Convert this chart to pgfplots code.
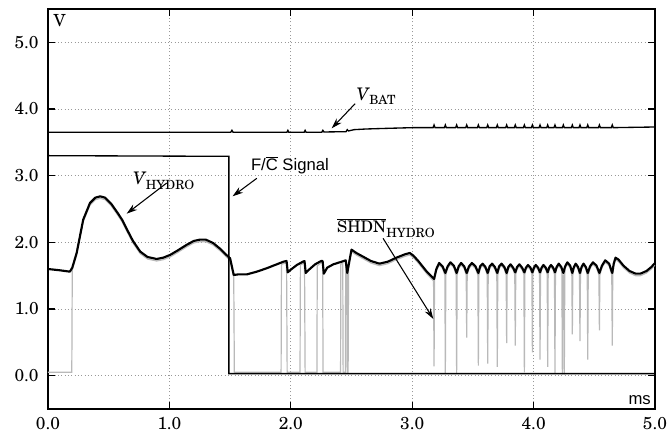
\documentclass[border=0pt]{standalone}
\usepackage{pgfplots}
\pgfplotsset{compat=1.18}
\usepackage{pgfplotstable}
\usepackage{fontspec}
\setmainfont{TeX Gyre Schola}
\newfontfamily\sans{Liberation Sans}
\usetikzlibrary{arrows.meta,calc}

% V_HYDRO (black)
\pgfplotstableread{
t v
0.000 1.60
0.100 1.58
0.180 1.56
0.200 1.62
0.236 1.84
0.290 2.34
0.346 2.59
0.390 2.67
0.430 2.69
0.470 2.67
0.520 2.58
0.570 2.45
0.610 2.34
0.660 2.16
0.700 2.02
0.760 1.86
0.820 1.78
0.895 1.75
0.950 1.77
1.005 1.81
1.070 1.88
1.140 1.96
1.200 2.02
1.250 2.04
1.300 2.04
1.360 1.99
1.420 1.90
1.470 1.81
1.500 1.76
1.530 1.51
1.570 1.52
1.640 1.52
1.720 1.56
1.800 1.61
1.870 1.66
1.940 1.71
1.965 1.72
1.975 1.55
2.000 1.59
2.050 1.66
2.100 1.71
2.113 1.72
2.123 1.54
2.150 1.59
2.200 1.67
2.250 1.72
2.262 1.72
2.272 1.53
2.300 1.62
2.350 1.67
2.420 1.71
2.452 1.73
2.465 1.54
2.500 1.89
2.540 1.84
2.590 1.79
2.660 1.72
2.730 1.68
2.800 1.71
2.870 1.77
2.940 1.82
2.980 1.84
3.010 1.80
3.050 1.72
3.120 1.56
3.180 1.45
3.199 1.60
3.222 1.69
3.250 1.64
3.273 1.54
3.292 1.64
3.315 1.70
3.343 1.65
3.366 1.54
3.383 1.64
3.403 1.69
3.428 1.64
3.449 1.54
3.468 1.64
3.492 1.69
3.521 1.64
3.545 1.54
3.560 1.64
3.580 1.68
3.603 1.63
3.622 1.54
3.638 1.64
3.658 1.68
3.681 1.63
3.701 1.54
3.716 1.64
3.736 1.68
3.759 1.63
3.778 1.54
3.792 1.63
3.810 1.67
3.831 1.62
3.849 1.55
3.864 1.63
3.883 1.67
3.905 1.62
3.924 1.55
3.937 1.62
3.954 1.66
3.974 1.62
3.990 1.55
4.003 1.62
4.018 1.66
4.037 1.62
4.053 1.55
4.066 1.62
4.081 1.66
4.100 1.62
4.116 1.55
4.128 1.62
4.143 1.66
4.161 1.62
4.176 1.55
4.190 1.63
4.207 1.68
4.228 1.63
4.245 1.54
4.260 1.64
4.278 1.70
4.301 1.65
4.319 1.54
4.332 1.63
4.347 1.68
4.366 1.63
4.382 1.54
4.395 1.63
4.411 1.68
4.430 1.63
4.446 1.54
4.465 1.64
4.489 1.70
4.518 1.65
4.542 1.54
4.563 1.65
4.590 1.73
4.622 1.68
4.648 1.54
4.660 1.68
4.675 1.77
4.700 1.74
4.740 1.65
4.790 1.57
4.840 1.53
4.880 1.53
4.930 1.57
4.970 1.63
5.000 1.69
}\hydro

% SHDN_HYDRO (grey)
\pgfplotstableread{
t v
0.000 0.05
0.196 0.05
0.200 1.59
0.236 1.81
0.290 2.31
0.346 2.56
0.390 2.64
0.430 2.66
0.470 2.64
0.520 2.55
0.570 2.42
0.610 2.31
0.660 2.13
0.700 1.99
0.760 1.83
0.820 1.75
0.895 1.72
0.950 1.74
1.005 1.78
1.070 1.85
1.140 1.93
1.200 1.99
1.250 2.01
1.300 2.01
1.360 1.96
1.420 1.87
1.470 1.78
1.500 1.73
1.530 1.48
1.535 0.05
1.920 0.05
1.923 1.67
1.940 1.68
1.965 1.69
1.970 0.05
2.076 0.05
2.079 1.66
2.100 1.68
2.113 1.69
2.118 0.05
2.215 0.05
2.218 1.65
2.250 1.69
2.262 1.69
2.266 0.05
2.410 0.05
2.412 1.67
2.428 1.69
2.431 0.05
2.450 0.05
2.452 1.70
2.462 1.58
2.466 0.05
2.472 0.05
2.476 1.70
2.500 1.86
2.540 1.81
2.590 1.76
2.660 1.69
2.730 1.65
2.800 1.68
2.870 1.74
2.940 1.79
2.980 1.81
3.010 1.77
3.050 1.69
3.120 1.53
3.176 1.42
3.180 0.14
3.184 1.44
3.199 1.57
3.222 1.66
3.250 1.61
3.269 1.51
3.273 0.04
3.277 1.51
3.292 1.61
3.315 1.67
3.343 1.62
3.362 1.51
3.366 0.04
3.370 1.51
3.383 1.61
3.403 1.66
3.428 1.61
3.445 1.51
3.449 0.57
3.453 1.51
3.468 1.61
3.492 1.66
3.521 1.61
3.541 1.51
3.545 0.15
3.549 1.51
3.560 1.61
3.580 1.65
3.603 1.60
3.618 1.51
3.622 0.18
3.626 1.51
3.638 1.61
3.658 1.65
3.681 1.60
3.697 1.51
3.701 0.13
3.705 1.51
3.716 1.61
3.736 1.65
3.759 1.60
3.774 1.51
3.778 0.49
3.782 1.51
3.792 1.60
3.810 1.64
3.831 1.59
3.845 1.52
3.849 0.45
3.853 1.52
3.864 1.60
3.883 1.64
3.905 1.59
3.920 1.52
3.924 0.05
3.928 1.52
3.937 1.59
3.954 1.63
3.974 1.59
3.986 1.52
3.990 0.35
3.994 1.52
4.003 1.59
4.018 1.63
4.037 1.59
4.049 1.52
4.053 0.24
4.057 1.52
4.066 1.59
4.081 1.63
4.100 1.59
4.112 1.52
4.116 0.13
4.120 1.52
4.128 1.59
4.143 1.63
4.161 1.59
4.172 1.52
4.176 0.04
4.180 1.52
4.190 1.60
4.207 1.65
4.228 1.60
4.233 1.53
4.237 0.02
4.241 1.51
4.249 1.51
4.253 0.02
4.257 1.53
4.260 1.61
4.278 1.67
4.301 1.62
4.315 1.51
4.319 0.62
4.323 1.51
4.332 1.60
4.347 1.65
4.366 1.60
4.378 1.51
4.382 0.52
4.386 1.51
4.395 1.60
4.411 1.65
4.430 1.60
4.442 1.51
4.446 0.24
4.450 1.51
4.465 1.61
4.489 1.67
4.518 1.62
4.538 1.51
4.542 0.68
4.546 1.51
4.563 1.62
4.590 1.70
4.622 1.65
4.644 1.51
4.648 0.45
4.652 1.51
4.660 1.65
4.675 1.74
4.700 1.71
4.740 1.62
4.790 1.54
4.840 1.50
4.880 1.50
4.930 1.54
4.970 1.60
5.000 1.66
}\shdn

% V_BAT (black)
\pgfplotstableread{
t v
0.000 3.65
1.505 3.65
1.515 3.68
1.525 3.65
1.968 3.65
1.976 3.68
1.984 3.65
2.110 3.65
2.118 3.68
2.126 3.65
2.255 3.65
2.264 3.68
2.273 3.655
2.455 3.66
2.465 3.69
2.475 3.67
2.520 3.69
2.620 3.70
2.800 3.71
3.000 3.72
3.172 3.72
3.180 3.76
3.188 3.72
3.265 3.72
3.273 3.76
3.281 3.72
3.358 3.72
3.366 3.76
3.374 3.72
3.441 3.72
3.449 3.76
3.457 3.72
3.537 3.72
3.545 3.76
3.553 3.72
3.614 3.72
3.622 3.76
3.630 3.72
3.693 3.72
3.701 3.76
3.709 3.72
3.770 3.72
3.778 3.76
3.786 3.72
3.841 3.72
3.849 3.76
3.857 3.72
3.916 3.72
3.924 3.76
3.932 3.72
3.982 3.72
3.990 3.76
3.998 3.72
4.045 3.72
4.053 3.76
4.061 3.72
4.108 3.72
4.116 3.76
4.124 3.72
4.168 3.72
4.176 3.76
4.184 3.72
4.237 3.72
4.245 3.76
4.253 3.72
4.311 3.72
4.319 3.76
4.327 3.72
4.374 3.72
4.382 3.76
4.390 3.72
4.438 3.72
4.446 3.76
4.454 3.72
4.534 3.72
4.542 3.76
4.550 3.72
4.640 3.72
4.648 3.76
4.656 3.72
5.000 3.73
}\vbat

% F/C signal (black)
\pgfplotstableread{
t v
0.000 3.30
1.490 3.29
1.490 0.03
5.000 0.03
}\fcsig

\newcommand{\sub}[1]{\raisebox{-0.26em}{\fontsize{9.5}{10}\selectfont #1}}

\begin{document}
\begin{tikzpicture}
\begin{axis}[
    scale only axis,
    width=455.25pt, height=300pt,
    xmin=0, xmax=5, ymin=-0.5, ymax=5.5,
    xtick={0,1,2,3,4,5},
    ytick={0,1,2,3,4,5},
    tick align=inside,
    major tick length=5pt,
    tick style={black, line width=1pt},
    axis line style={line width=1.2pt},
    grid=major,
    grid style={gray!80, line width=0.6pt, dash pattern=on 0.7pt off 1.8pt},
    ticklabel style={font=\fontsize{13}{14}\selectfont},
    xticklabel={\pgfmathprintnumber[assume math mode=true,fixed,fixed zerofill,precision=1]{\tick}},
    yticklabel={\pgfmathprintnumber[assume math mode=true,fixed,fixed zerofill,precision=1]{\tick}},
    xticklabel shift=3pt,
    yticklabel shift=3.5pt,
    clip=true,
]
\addplot[gray!55, line width=0.9pt] table[x=t, y=v] {\shdn};
\addplot[black, line width=1.6pt, line join=round] table[x=t, y=v] {\hydro};
\addplot[black, line width=1pt] table[x=t, y=v] {\fcsig};
\addplot[black, line width=1pt] table[x=t, y=v] {\vbat};

% labels
\node[anchor=base west, font=\fontsize{12.5}{14}\selectfont, inner sep=0pt] at (axis cs:0.044,5.23) {V};
\node[anchor=base west, font=\sans\fontsize{12.5}{14}\selectfont, inner sep=0pt] at (axis cs:4.78,-0.43) {ms};
\node[anchor=base west, font=\fontsize{13}{15}\selectfont, inner sep=0pt] at (axis cs:0.70,2.86) {\textit{V}\kern-0.04em\sub{HYDRO}};
\node[anchor=base west, font=\fontsize{13}{15}\selectfont, inner sep=0pt] at (axis cs:2.54,4.13) {\textit{V}\kern-0.04em\sub{BAT}};
\node[anchor=base west, font=\sans\fontsize{12.5}{14}\selectfont, inner sep=0pt] at (axis cs:1.67,3.07) {F/$\overline{\mbox{C}}$ Signal};
\node[anchor=base west, font=\fontsize{12}{14}\selectfont, inner sep=0pt] at (axis cs:2.38,2.14) {$\overline{\mbox{SHDN}}$\kern0.02em\sub{HYDRO}};

% arrows
\draw[-{Stealth[length=8pt,width=5pt]}, line width=0.8pt] (axis cs:0.978,2.89) -- (axis cs:0.648,2.43);
\draw[-{Stealth[length=8pt,width=5pt]}, line width=0.8pt] (axis cs:1.72,2.96) -- (axis cs:1.52,2.69);
\draw[-{Stealth[length=8pt,width=5pt]}, line width=0.8pt] (axis cs:2.53,4.08) -- (axis cs:2.337,3.71);
\draw[-{Stealth[length=8pt,width=5pt]}, line width=0.8pt] (axis cs:2.76,2.06) -- (axis cs:3.174,0.85);

\coordinate (ll) at (rel axis cs:0,0);
\coordinate (ur) at (rel axis cs:1,1);
\end{axis}
\pgfresetboundingbox
\path[use as bounding box] ($(ll)+(-36pt,-21.75pt)$) rectangle ($(ur)+(9pt,6.75pt)$);
\end{tikzpicture}
\end{document}
